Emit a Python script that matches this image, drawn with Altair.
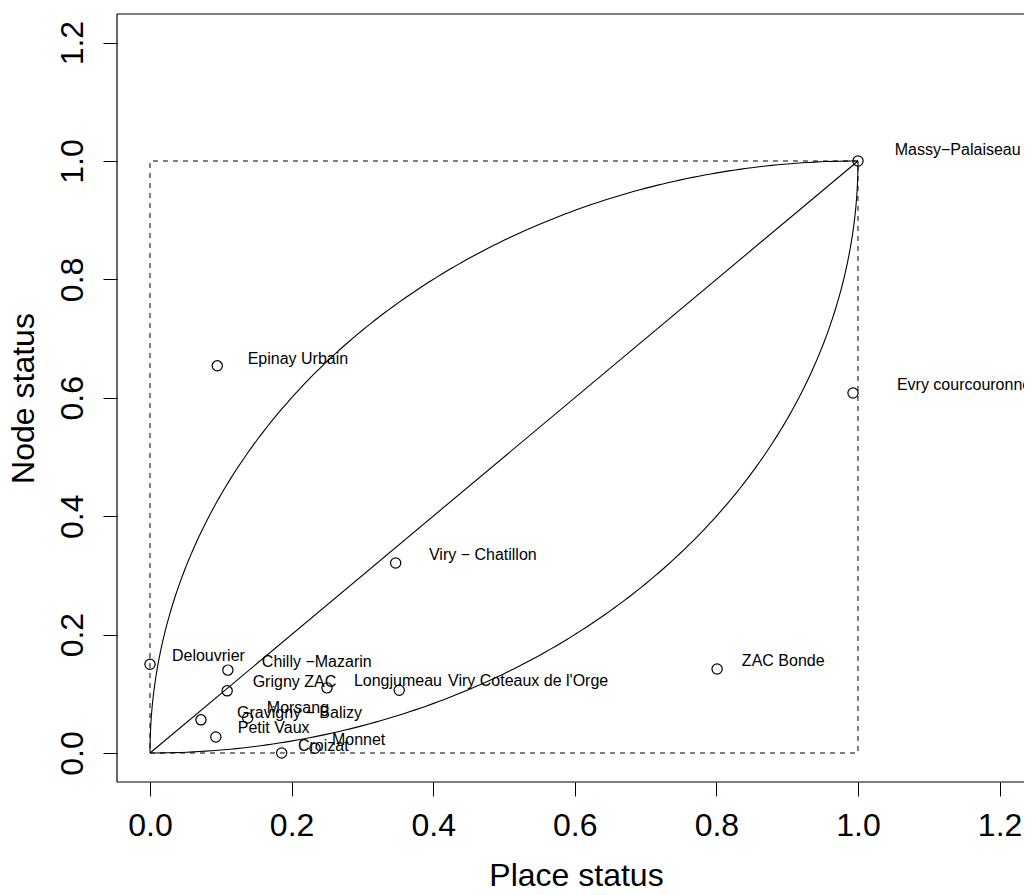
import altair as alt
import numpy as np
import pandas as pd

# ---- data ----
names = ["Massy−Palaiseau", "Evry courcouronnes", "Epinay Urbain", "Viry − Chatillon",
         "ZAC Bonde", "Delouvrier", "Chilly −Mazarin", "Grigny ZAC", "Longjumeau",
         "Viry Coteaux de l'Orge", "Gravigny − Balizy", "Morsang", "Petit Vaux",
         "Croizat", "Monnet"]
place_status = [1.000, 0.993, 0.095, 0.347, 0.801, 0.000, 0.110, 0.109, 0.250,
                0.352, 0.072, 0.138, 0.093, 0.186, 0.233]
node_status = [1.000, 0.608, 0.654, 0.321, 0.142, 0.150, 0.140, 0.105, 0.110,
               0.106, 0.056, 0.059, 0.027, 0.000, 0.008]
label_x = [1.052, 1.055, 0.138, 0.394, 0.836, 0.031, 0.158, 0.145, 0.288,
           0.421, 0.123, 0.165, 0.124, 0.209, 0.257]
label_y = [1.019, 0.622, 0.666, 0.334, 0.155, 0.164, 0.154, 0.120, 0.122,
           0.122, 0.068, 0.076, 0.042, 0.012, 0.022]

tick_values = [0.0, 0.2, 0.4, 0.6, 0.8, 1.0, 1.2]

# reference frame: dashed unit square and diagonal
square_x = [0, 1, 1, 0, 0]
square_y = [0, 0, 1, 1, 0]
diag_x = [0, 1]
diag_y = [0, 1]

# reference quarter-circle arcs (geometric construction, not data)
t = np.linspace(0, np.pi / 2, 181)
upper_arc_x = 1 - np.cos(t)
upper_arc_y = np.sin(t)
lower_arc_x = np.sin(t)
lower_arc_y = 1 - np.cos(t)

FONT = "Liberation Sans"
xdom = [-0.0466, 1.2345]
ydom = [-0.049, 1.2483]

pts = pd.DataFrame({"name": names, "x": place_status, "y": node_status,
                    "lx": label_x, "ly": label_y})
sq = pd.DataFrame({"x": square_x, "y": square_y, "o": range(len(square_x))})
dg = pd.DataFrame({"x": diag_x, "y": diag_y, "o": range(len(diag_x))})
arcs = pd.concat([
    pd.DataFrame({"x": upper_arc_x, "y": upper_arc_y, "o": range(len(t)), "c": "upper"}),
    pd.DataFrame({"x": lower_arc_x, "y": lower_arc_y, "o": range(len(t)), "c": "lower"}),
])
# plot frame (left, top, bottom sides; the right side lies outside the picture)
frame = pd.DataFrame({
    "x": [xdom[0], xdom[0], xdom[0]],
    "x2": [xdom[0], xdom[1], xdom[1]],
    "y": [ydom[0], ydom[1], ydom[0]],
    "y2": [ydom[1], ydom[1], ydom[0]],
})

xscale = alt.Scale(domain=xdom, nice=False, zero=False)
yscale = alt.Scale(domain=ydom, nice=False, zero=False)
xaxis = alt.Axis(values=tick_values, format=".1f", grid=False, domain=False,
                 tickSize=14, tickColor="black", tickWidth=1,
                 labelFont=FONT, labelFontSize=32, labelColor="black",
                 labelBaseline="alphabetic", labelPadding=39, labelFlush=False,
                 title="Place status", titleFont=FONT, titleFontSize=32,
                 titleFontWeight="normal", titleColor="black",
                 titleBaseline="alphabetic", titleAlign="center",
                 titleX=459, titleY=103)
yaxis = alt.Axis(values=tick_values, format=".1f", grid=False, domain=False,
                 tickSize=14, tickColor="black", tickWidth=1,
                 labelFont=FONT, labelFontSize=32, labelColor="black",
                 labelAngle=270, labelAlign="center", labelBaseline="alphabetic",
                 labelPadding=21, labelFlush=False,
                 title="Node status", titleFont=FONT, titleFontSize=32,
                 titleFontWeight="normal", titleColor="black",
                 titleAngle=270, titleBaseline="alphabetic", titleAlign="center",
                 titleX=-84, titleY=384)

X = alt.X("x:Q", scale=xscale, axis=xaxis)
Y = alt.Y("y:Q", scale=yscale, axis=yaxis)

frame_rules = alt.Chart(frame).mark_rule(color="black", strokeWidth=1.2).encode(
    x=X, x2="x2:Q", y=Y, y2="y2:Q")
square = alt.Chart(sq).mark_line(color="black", strokeWidth=1, strokeDash=[5, 5]).encode(
    x=X, y=Y, order="o:Q")
diagonal = alt.Chart(dg).mark_line(color="black", strokeWidth=1.1).encode(
    x=X, y=Y, order="o:Q")
arc_lines = alt.Chart(arcs).mark_line(color="black", strokeWidth=1.1).encode(
    x=X, y=Y, order="o:Q", detail="c:N")
points = alt.Chart(pts).mark_point(shape="circle", filled=False, size=105,
                                   color="black", strokeWidth=1.2, opacity=1).encode(x=X, y=Y)
labels = alt.Chart(pts).mark_text(align="left", baseline="middle", font=FONT,
                                  fontSize=16, color="black").encode(
    x=alt.X("lx:Q", scale=xscale, axis=xaxis),
    y=alt.Y("ly:Q", scale=yscale, axis=yaxis),
    text="name:N")

chart = alt.layer(frame_rules, square, diagonal, arc_lines, points, labels).properties(
    width=907, height=768,
    autosize=alt.AutoSizeParams(type="none"),
    padding={"left": 109, "top": 6, "right": 0, "bottom": 105},
    background="white",
).configure_view(stroke=None)

chart.save("out.html", embed_options={"renderer": "svg", "actions": False})
